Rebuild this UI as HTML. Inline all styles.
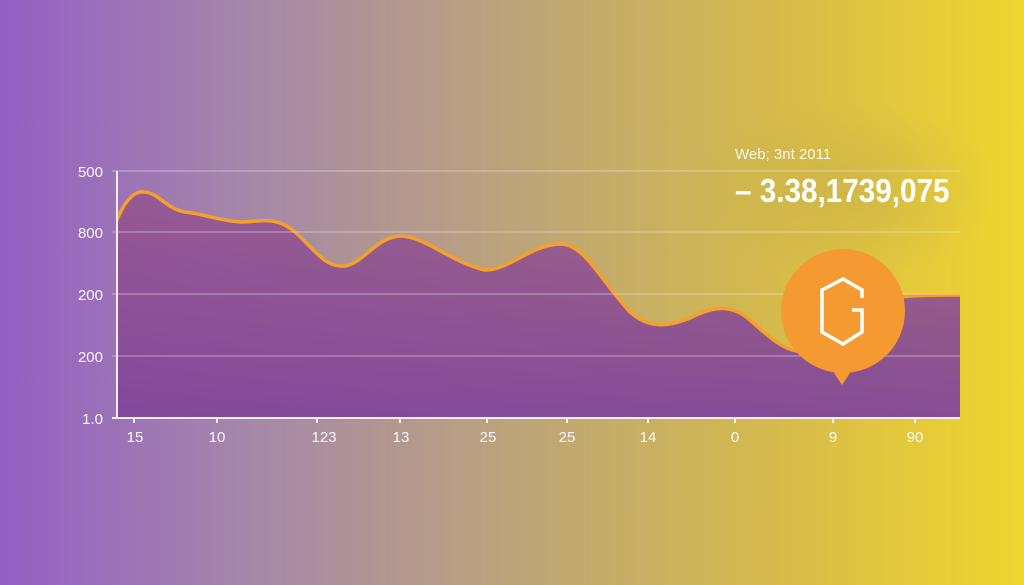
<!DOCTYPE html>
<html><head><style>
html,body{margin:0;padding:0;width:1024px;height:585px;overflow:hidden}
body{background:linear-gradient(90deg,#9360c4 0%,#a688a8 25%,#bca47a 50%,#d4ba4c 75%,#f0d62e 100%);font-family:"Liberation Sans",sans-serif}
</style></head><body>
<svg width="1024" height="585" style="position:absolute;left:0;top:0">
<defs>
<linearGradient id="f" x1="0" y1="0" x2="0" y2="1">
<stop offset="0" stop-color="#94548e" stop-opacity="0.85"/>
<stop offset="1" stop-color="#80469a" stop-opacity="0.95"/>
</linearGradient>
<radialGradient id="glow" cx="0.5" cy="0.5" r="0.5">
<stop offset="0" stop-color="#c8b048" stop-opacity="0.6"/>
<stop offset="1" stop-color="#c8b048" stop-opacity="0"/>
</radialGradient>
</defs>
<ellipse cx="840" cy="190" rx="160" ry="90" fill="url(#glow)"/>
<path d="M117,220 C125,200 135,190 145,192 C160,194 165,208 185,212 C205,214 215,220 240,222 C260,222 275,215 295,232 C315,250 325,268 345,266 C365,262 375,238 400,236 C425,236 450,262 485,270 C510,270 530,245 560,244 C585,244 600,280 630,312 C650,330 670,326 690,318 C710,308 730,302 750,320 C770,338 785,352 805,352 C830,352 850,318 870,305 C890,296 910,295 960,295 L960,418 L117,418 Z" fill="url(#f)" stroke="none"/>
<path d="M117,220 C125,200 135,190 145,192 C160,194 165,208 185,212 C205,214 215,220 240,222 C260,222 275,215 295,232 C315,250 325,268 345,266 C365,262 375,238 400,236 C425,236 450,262 485,270 C510,270 530,245 560,244 C585,244 600,280 630,312 C650,330 670,326 690,318 C710,308 730,302 750,320 C770,338 785,352 805,352 C830,352 850,318 870,305 C890,296 910,295 960,295" fill="none" stroke="#f4a02a" stroke-width="3.5"/>
<g stroke="#f3e6ee" stroke-opacity="0.55" stroke-width="1">
<line x1="112" y1="171" x2="960" y2="171"/>
<line x1="112" y1="232" x2="960" y2="232"/>
<line x1="112" y1="294" x2="960" y2="294"/>
<line x1="112" y1="356" x2="960" y2="356"/>
</g>
<g stroke="#f5eef5" stroke-width="2">
<line x1="117" y1="171" x2="117" y2="418"/>
<line x1="112" y1="418" x2="960" y2="418"/>
<line x1="134" y1="418" x2="134" y2="423"/><line x1="217" y1="418" x2="217" y2="423"/><line x1="317" y1="418" x2="317" y2="423"/><line x1="400" y1="418" x2="400" y2="423"/><line x1="487" y1="418" x2="487" y2="423"/><line x1="567" y1="418" x2="567" y2="423"/><line x1="648" y1="418" x2="648" y2="423"/><line x1="735" y1="418" x2="735" y2="423"/><line x1="833" y1="418" x2="833" y2="423"/><line x1="915" y1="418" x2="915" y2="423"/>
</g>
<g fill="#fbf6fb" font-size="15" text-anchor="end">
<text x="103" y="177">500</text><text x="103" y="238">800</text><text x="103" y="300">200</text><text x="103" y="362">200</text><text x="103" y="424">1.0</text>
</g>
<g fill="#fbf6fb" font-size="15" text-anchor="middle">
<text x="135" y="442">15</text><text x="217" y="442">10</text><text x="324" y="442">123</text><text x="401" y="442">13</text><text x="488" y="442">25</text><text x="567" y="442">25</text><text x="648" y="442">14</text><text x="735" y="442">0</text><text x="833" y="442">9</text><text x="915" y="442">90</text>
</g>
<text x="735" y="159" fill="#fbf6e8" font-size="15">Web; 3nt 2011</text>
<text x="735" y="202" fill="#ffffff" font-size="33" font-weight="bold" transform="translate(735,0) scale(0.9,1) translate(-735,0)">– 3.38,1739,075</text>
<path d="M832,370 L842,385 L852,370 Z" fill="#f59a30"/>
<circle cx="843" cy="311" r="62" fill="#f59a30"/>
<path d="M862,298 L862,290 L843,279 L822,290 L822,332 L843,344 L862,332 L862,310 L852,310" fill="none" stroke="#fff" stroke-width="3.5"/>
</svg>
</body></html>
